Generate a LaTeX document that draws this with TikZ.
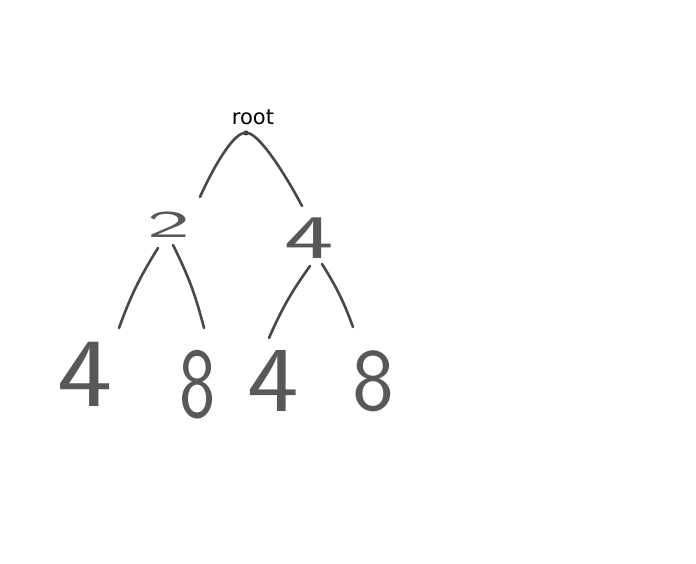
\documentclass[tikz,border=0pt]{standalone}
\usepackage{graphicx}
\usepackage{fontspec}
\newfontfamily\labelfont{DejaVu Sans}
\definecolor{ink}{RGB}{72,72,72}
\definecolor{digitink}{RGB}{88,88,88}
\begin{document}
\begin{tikzpicture}[x=1pt,y=-1pt,
  branch/.style={draw=ink,line width=2.6pt,line cap=round},
  digit/.style={inner sep=0pt,text=digitink,font=\sffamily}]
\fill[white] (0,0) rectangle (696,564);
\useasboundingbox (0,0) rectangle (696,564);
% root
\node[font=\labelfont\fontsize{21}{21}\selectfont,inner sep=0pt] (rootlabel) at (253,117) {root};
\node[circle,fill=black!85,inner sep=0pt,minimum size=5pt] (dot) at (246,133) {};
% inner nodes
\node[digit] (n2) at (169,225) {\fontsize{38}{38}\selectfont\scalebox{2.4}[1]{2}};
\node[digit] (n4) at (309,238) {\fontsize{62}{62}\selectfont\scalebox{1.7}[1]{4}};
% leaves
\node[digit] (l1) at (85,374) {\fontsize{98}{98}\selectfont\scalebox{1.2}[1]{4}};
\node[digit] (l2) at (198,385) {\fontsize{100}{100}\selectfont\scalebox{0.77}[1]{8}};
\node[digit] (l3) at (273,381) {\fontsize{93}{93}\selectfont\scalebox{1.18}[1]{4}};
\node[digit] (l4) at (373,381) {\fontsize{89}{89}\selectfont\scalebox{1.0}[1]{8}};
% connectors
\draw[branch] (dot.center) .. controls (234,131) and (213,168) .. ([shift={(31,-28)}]n2.center);
\draw[branch] (dot.center) .. controls (257,131) and (283,170) .. ([shift={(-7,-32)}]n4.center);
\draw[branch] ([shift={(-11,23)}]n2.center) to[bend right=6] ([shift={(34,-46)}]l1.center);
\draw[branch] ([shift={(4,20)}]n2.center) to[bend left=6] ([shift={(6,-57)}]l2.center);
\draw[branch] ([shift={(1,28)}]n4.center) to[bend right=6] ([shift={(-4,-43)}]l3.center);
\draw[branch] ([shift={(13,26)}]n4.center) to[bend left=6] ([shift={(-20,-54)}]l4.center);
\end{tikzpicture}
\end{document}
